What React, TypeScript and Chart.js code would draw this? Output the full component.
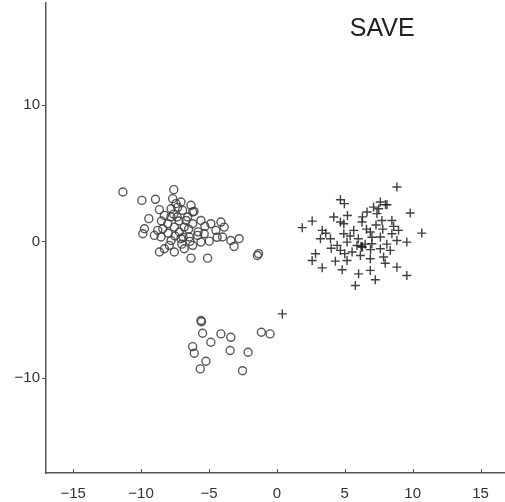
import React, { useEffect, useRef } from "react";
import { Chart, registerables } from "chart.js";

Chart.register(...registerables);

const chartTitle = "SAVE";
const xTickValues = [-15, -10, -5, 0, 5, 10, 15];
const yTickValues = [-10, 0, 10];

// circle series (x, y)
const circleX = [
  -11.34, -9.94, -8.94, -7.59, -7.67, -9.43, -8.65, -8.28, -7.79, -7.06, -6.32, -6.2, -6.57, -7.35,
  -8.03, -8.4, -8.77, -9.75, -9.87, -7.55, -7.18, -6.82, -6.2, -5.59, -4.86, -4.12, -3.88, -4.49,
  -5.35, -5.83, -6.45, -7.06, -7.79, -8.53, -9.02, -7.92, -8.28, -8.65, -7.55, -6.82, -6.2, -5.59,
  -4.98, -4.0, -3.39, -2.78, -3.15, -6.32, -5.1, -1.43, -1.35, -6.94, -7.43, -6.69,
  -7.2, -6.9, -7.5, -6.5, -7.8, -6.1, -7.3, -5.8, -7.0, -6.4, -8.0, -7.6, -5.3, -4.4, -8.5,
  -5.59, -5.55, -5.47, -4.86, -4.12, -3.39, -6.2, -6.08, -3.44, -2.12, -1.14, -0.5, -5.22, -5.64, -2.53,
];
const circleY = [
  3.63, 3.01, 3.09, 3.8, 3.14, 1.67, 2.33, 1.91, 2.4, 2.89, 2.65, 2.16, 1.79, 1.79,
  1.3, 0.93, 0.81, 0.93, 0.56, 1.05, 0.69, 1.05, 1.3, 1.54, 1.3, 1.42, 1.05, 0.81,
  0.56, 0.44, 0.32, 0.2, 0.07, 0.32, 0.44, -0.29, -0.54, -0.78, -0.78, -0.54, -0.29, -0.05,
  0.02, 0.32, 0.07, 0.2, -0.37, -1.23, -1.23, -1.03, -0.9, 2.28, 2.77, 1.54,
  1.5, 0.3, 0.4, 0.9, 1.8, 2.2, 2.5, 0.7, -0.2, 0.0, 0.6, 2.0, 1.1, 0.3, 1.5,
  -5.81, -5.9, -6.74, -7.4, -6.79, -7.04, -7.72, -8.21, -8.01, -8.14, -6.67, -6.79, -8.8, -9.36, -9.49,
];

// plus series (x, y)
const plusX = [
  8.84, 4.68, 4.97, 7.62, 8.11, 7.12, 6.64, 7.37, 9.82, 4.19, 2.6, 4.68, 1.87, 3.34, 4.93, 6.27,
  7.74, 8.47, 8.96, 10.67, 3.21, 3.95, 4.93, 5.66, 6.88, 7.62, 8.47, 8.84, 9.57, 4.44, 5.17, 6.27,
  7.0, 7.62, 8.35, 2.85, 4.68, 5.54, 6.15, 6.88, 7.86, 2.6, 4.31, 5.17, 3.34, 4.81, 6.02, 6.88,
  7.98, 8.84, 9.57, 7.25, 5.78, 0.4,
  6.0, 6.6, 7.3, 5.9, 6.9, 7.8, 8.1, 5.4, 6.3, 7.0, 8.6, 6.5, 5.0, 4.0, 3.6, 7.5, 8.0, 5.2, 6.3, 6.2,
];
const plusY = [
  3.99, 3.06, 2.77, 2.89, 2.69, 2.52, 2.16, 2.04, 2.08, 1.79, 1.49, 1.42, 1.01, 0.81, 1.3, 1.42,
  1.54, 1.54, 0.81, 0.61, 0.2, 0.2, 0.56, 0.81, 0.69, 0.32, 0.56, 0.07, -0.05, -0.29, -0.05, -0.42,
  -0.17, -0.54, -0.66, -0.91, -0.66, -0.78, -1.03, -1.27, -1.15, -1.4, -1.45, -1.4, -1.94, -2.08, -2.38, -2.13,
  -1.6, -1.89, -2.5, -2.82, -3.24, -5.32,
  0.2, 0.9, 1.2, -0.3, -0.6, 0.9, -0.2, 0.4, 1.8, 0.3, 1.1, -0.2, -0.9, -0.5, 0.6, 2.4, 2.7, 1.9, -0.4, -0.35,
];

const FONT = "'Liberation Sans', Arial, Helvetica, sans-serif";

export default function App() {
  const ref = useRef<HTMLCanvasElement | null>(null);

  useEffect(() => {
    if (!ref.current) return;
    const circles = circleX.map((x, i) => ({ x, y: circleY[i] }));
    const pluses = plusX.map((x, i) => ({ x, y: plusY[i] }));

    const extras = {
      id: "extras",
      afterDraw(chart: any) {
        const ctx = chart.ctx;
        const xs = chart.scales.x;
        const ys = chart.scales.y;
        const area = chart.chartArea;
        ctx.save();
        ctx.strokeStyle = "#555";
        ctx.lineWidth = 1;
        xTickValues.forEach((v) => {
          const px = Math.round(xs.getPixelForValue(v)) + 0.5;
          ctx.beginPath();
          ctx.moveTo(px, area.bottom);
          ctx.lineTo(px, area.bottom - 4);
          ctx.stroke();
        });
        yTickValues.forEach((v) => {
          const py = Math.round(ys.getPixelForValue(v)) + 0.5;
          ctx.beginPath();
          ctx.moveTo(area.left, py);
          ctx.lineTo(area.left - 4, py);
          ctx.stroke();
        });
        ctx.fillStyle = "#222";
        ctx.font = `25px ${FONT}`;
        ctx.textAlign = "center";
        ctx.textBaseline = "middle";
        ctx.fillText(chartTitle, xs.getPixelForValue(7.76), ys.getPixelForValue(15.6));
        ctx.restore();
      },
    };

    const fmt = (v: any) => {
      const n = Number(v);
      return n < 0 ? "\u2212" + Math.abs(n) : String(n);
    };

    const chart = new Chart(ref.current, {
      type: "scatter",
      data: {
        datasets: [
          {
            label: "circles",
            data: circles,
            pointStyle: "circle",
            pointRadius: 4,
            pointBorderWidth: 1.4,
            pointBorderColor: "rgba(60,60,60,0.85)",
            pointBackgroundColor: "rgba(0,0,0,0)",
            showLine: false,
          },
          {
            label: "plus",
            data: pluses,
            pointStyle: "cross",
            pointRadius: 4.5,
            pointBorderWidth: 1.4,
            pointBorderColor: "rgba(30,30,30,0.85)",
            pointBackgroundColor: "rgba(0,0,0,0)",
            showLine: false,
          },
        ],
      },
      options: {
        animation: false,
        responsive: false,
        events: [],
        layout: { autoPadding: false, padding: { top: 3, left: 0, right: 0, bottom: 0 } },
        plugins: {
          legend: { display: false },
          tooltip: { enabled: false },
          title: { display: false },
        },
        scales: {
          x: {
            type: "linear",
            min: -17,
            max: 16.8,
            grid: { display: false, drawTicks: false },
            border: { display: true, color: "#555", width: 1.5 },
            afterBuildTicks: (s: any) => {
              s.ticks = xTickValues.map((v) => ({ value: v }));
            },
            afterFit: (s: any) => {
              s.height = 29;
              s.paddingLeft = 0;
              s.paddingRight = 0;
            },
            ticks: {
              color: "#333",
              font: { family: FONT, size: 15 },
              padding: 12,
              maxRotation: 0,
              autoSkip: false,
              callback: fmt,
            },
          },
          y: {
            type: "linear",
            min: -17,
            max: 17.5,
            grid: { display: false, drawTicks: false },
            border: { display: true, color: "#555", width: 1.5 },
            afterBuildTicks: (s: any) => {
              s.ticks = yTickValues.map((v) => ({ value: v }));
            },
            afterFit: (s: any) => {
              s.width = 46;
              s.paddingTop = 0;
              s.paddingBottom = 0;
            },
            ticks: {
              color: "#333",
              font: { family: FONT, size: 15 },
              padding: 6,
              autoSkip: false,
              callback: fmt,
            },
          },
        },
      },
      plugins: [extras],
    });
    return () => chart.destroy();
  }, []);

  return (
    <div style={{ position: "fixed", left: 0, top: 0, width: 505, height: 502, background: "#fff" }}>
      <canvas ref={ref} width={505} height={502} style={{ width: 505, height: 502 }} />
    </div>
  );
}
